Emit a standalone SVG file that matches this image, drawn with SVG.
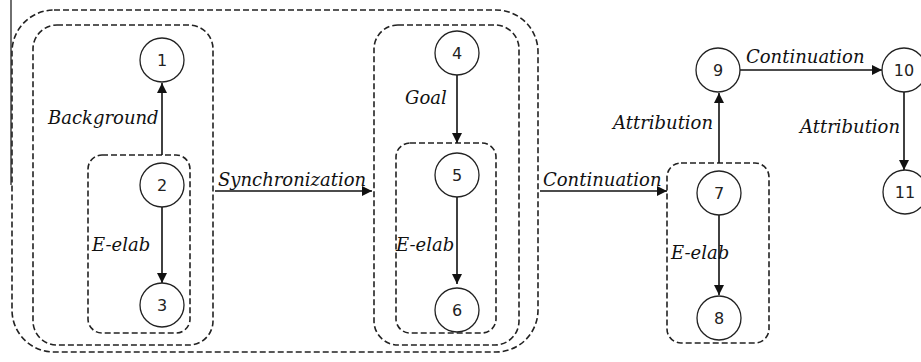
<svg xmlns="http://www.w3.org/2000/svg" width="921" height="362" viewBox="0 0 921 362">
<style>
.box{fill:none;stroke:#222;stroke-width:1.6;stroke-dasharray:6 3}
.node circle{fill:#fff;stroke:#222;stroke-width:1.3}
.node text{font-family:"DejaVu Sans",sans-serif;font-size:16px;fill:#222;text-anchor:middle}
.edge{stroke:#111;stroke-width:1.6;fill:none;marker-end:url(#ah)}
.lbl{font-family:"DejaVu Serif",serif;font-style:italic;font-size:18px;fill:#111}
</style>
<defs>
<marker id="ah" viewBox="0 0 10 10" refX="10" refY="5" markerWidth="10" markerHeight="10" markerUnits="userSpaceOnUse" orient="auto">
<path d="M0,0 L10,5 L0,10 z" fill="#111"/>
</marker>
</defs>
<rect width="921" height="362" fill="#fff"/>
<line x1="11" y1="0" x2="11" y2="185" stroke="#222" stroke-width="1.3"/>
<g id="groups">
<rect class="box" x="12" y="10" width="526" height="342" rx="42"/>
<rect class="box" x="33" y="25" width="180" height="320" rx="24"/>
<rect class="box" x="88" y="155" width="102" height="178" rx="14"/>
<rect class="box" x="374" y="25" width="145" height="320" rx="24"/>
<rect class="box" x="396" y="143" width="100" height="190" rx="14"/>
<rect class="box" x="667" y="163" width="102" height="180" rx="14"/>
</g>
<g id="connectors">
<line class="edge" x1="162" y1="155" x2="162" y2="83"/>
<line class="edge" x1="162" y1="207" x2="162" y2="283"/>
<line class="edge" x1="215" y1="191" x2="372" y2="191"/>
<line class="edge" x1="457" y1="75" x2="457" y2="143"/>
<line class="edge" x1="457" y1="197" x2="457" y2="284"/>
<line class="edge" x1="540" y1="191" x2="667" y2="191"/>
<line class="edge" x1="719" y1="215" x2="719" y2="295"/>
<line class="edge" x1="719" y1="163" x2="719" y2="93"/>
<line class="edge" x1="740" y1="70" x2="882" y2="70"/>
<line class="edge" x1="904" y1="92" x2="904" y2="170"/>
<text class="lbl" x="48" y="124">Background</text>
<text class="lbl" x="92" y="251">E-elab</text>
<text class="lbl" x="218" y="186">Synchronization</text>
<text class="lbl" x="405" y="104">Goal</text>
<text class="lbl" x="396" y="251">E-elab</text>
<text class="lbl" x="543" y="186">Continuation</text>
<text class="lbl" x="671" y="259">E-elab</text>
<text class="lbl" x="613" y="129">Attribution</text>
<text class="lbl" x="746" y="63">Continuation</text>
<text class="lbl" x="800" y="133">Attribution</text>
</g>
<g id="n1" class="node"><circle cx="162" cy="60" r="22"/><text x="162" y="66">1</text></g>
<g id="n2" class="node"><circle cx="162" cy="185" r="22"/><text x="162" y="191">2</text></g>
<g id="n3" class="node"><circle cx="162" cy="305" r="22"/><text x="162" y="311">3</text></g>
<g id="n4" class="node"><circle cx="457" cy="53" r="22"/><text x="457" y="59">4</text></g>
<g id="n5" class="node"><circle cx="457" cy="175" r="22"/><text x="457" y="181">5</text></g>
<g id="n6" class="node"><circle cx="457" cy="310" r="22"/><text x="457" y="316">6</text></g>
<g id="n7" class="node"><circle cx="719" cy="193" r="22"/><text x="719" y="199">7</text></g>
<g id="n8" class="node"><circle cx="719" cy="318" r="22"/><text x="719" y="324">8</text></g>
<g id="n9" class="node"><circle cx="718" cy="70" r="22"/><text x="718" y="76">9</text></g>
<g id="n10" class="node"><circle cx="904" cy="70" r="22"/><text x="904" y="76">10</text></g>
<g id="n11" class="node"><circle cx="905" cy="192" r="22"/><text x="905" y="198">11</text></g>
</svg>
